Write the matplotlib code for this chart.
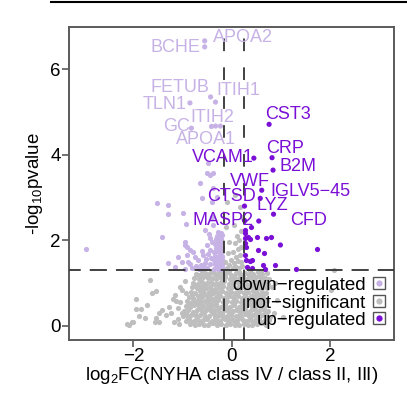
import matplotlib
matplotlib.use('Agg')
import matplotlib.pyplot as plt
from matplotlib.lines import Line2D

plt.rcParams['font.family'] = ['Liberation Sans', 'DejaVu Sans']
plt.rcParams['mathtext.default'] = 'regular'

GREY = '#BEBEBE'
DOWN = '#C7B2E6'
UP = '#7A0FD6'

# not-significant proteins, log2FC and -log10 p
grey_x = [
    -0.84, -0.75, -0.66, -0.57, -0.48, -0.39, -0.30, -0.21, -0.12, -0.03, 0.06, 0.15, 0.24, 0.33, 0.42, 0.51, 0.60, 0.69,
    -0.94, -0.86, -0.77, -0.68, -0.59, -0.50, -0.41, -0.32, -0.23, -0.14, -0.05, 0.04, 0.13, 0.22, 0.31, 0.40, 0.49, 0.58, 0.67, 0.75,
    -1.00, -0.91, -0.82, -0.73, -0.64, -0.55, -0.46, -0.37, -0.28, -0.19, -0.10, -0.01, 0.08, 0.17, 0.26, 0.35, 0.44, 0.53, 0.62, 0.71, 0.78,
    -0.97, -0.88, -0.79, -0.70, -0.61, -0.52, -0.43, -0.34, -0.25, -0.16, -0.07, 0.02, 0.11, 0.20, 0.29, 0.38, 0.47, 0.56, 0.65, 0.74,
    -0.94, -0.85, -0.76, -0.67, -0.58, -0.49, -0.40, -0.31, -0.22, -0.13, -0.04, 0.05, 0.14, 0.23, 0.32, 0.41, 0.50, 0.59, 0.68,
    -0.90, -0.81, -0.72, -0.63, -0.54, -0.45, -0.36, -0.27, -0.18, -0.09, 0.00, 0.09, 0.18, 0.27, 0.36, 0.45, 0.54, 0.63, 0.71,
    -0.87, -0.78, -0.69, -0.60, -0.51, -0.42, -0.33, -0.24, -0.15, -0.06, 0.03, 0.12, 0.21, 0.30, 0.39, 0.48, 0.57, 0.66,
    -0.83, -0.74, -0.65, -0.56, -0.47, -0.38, -0.29, -0.20, -0.11, -0.02, 0.07, 0.16, 0.25, 0.34, 0.43, 0.52, 0.61, 0.70,
    -0.80, -0.71, -0.62, -0.53, -0.44, -0.35, -0.26, -0.17, -0.08, 0.01, 0.10, 0.19, 0.28, 0.37, 0.46, 0.55, 0.64, 0.72,
    -0.78, -0.69, -0.60, -0.51, -0.42, -0.33, -0.24, -0.15, -0.06, 0.03, 0.12, 0.21, 0.30, 0.39, 0.48, 0.57, 0.66, 0.74,
    -0.76, -0.67, -0.58, -0.49, -0.40, -0.31, -0.22, -0.13, -0.04, 0.05, 0.14, 0.23, 0.32, 0.41, 0.50, 0.59, 0.68, 0.76,
    -0.73, -0.64, -0.55, -0.46, -0.37, -0.28, -0.19, -0.10, -0.01, 0.08, 0.17, 0.26, 0.35, 0.44, 0.53, 0.62, 0.71,
    -0.60, -0.42, -0.25, -0.05, 0.15, 0.38, 0.60,
    # between the rows of the dense core
    -0.70, -0.52, -0.35, -0.17, 0.01, 0.19, 0.37, 0.55, -0.62, -0.44, -0.26, -0.08, 0.10, 0.28, 0.46, 0.64,
    -0.66, -0.48, -0.30, -0.12, 0.06, 0.24, 0.42, 0.60, -0.58, -0.40, -0.22, -0.04, 0.14, 0.32, 0.50,
    -0.80, -0.62, -0.44, -0.26, -0.08, 0.10, 0.28, 0.46, 0.64,
    -0.92, -0.74, -0.56, -0.38, -0.20, -0.02, 0.16, 0.34, 0.52, 0.70,
    -0.86, -0.68, -0.50, -0.32, -0.14, 0.04, 0.22, 0.40, 0.58,
    -0.80, -0.62, -0.44, -0.26, -0.08, 0.10, 0.28, 0.46, 0.64,
    -0.74, -0.56, -0.38, -0.20, -0.02, 0.16, 0.34, 0.52, 0.70,
    -0.68, -0.50, -0.32, -0.14, 0.04, 0.22, 0.40, 0.58,
    # left tail
    -1.67, -1.54, -1.63, -1.94, -1.72, -1.84, -2.00, -2.08, -1.76, -1.54, -1.47, -1.41, -1.33, -1.56, -1.20, -1.13,
    -1.23, -1.06, -0.96, -0.93, -1.01, -1.10, -1.47, -1.88, -2.02, -2.12, -1.94, -1.10, -1.18, -1.05, -1.28, -1.15,
    -1.02, -1.08,
    # right side
    2.08, 2.02, 0.85, 0.92, 0.88, 1.05, 0.82,
    # above the p line but small fold change
    0.02, 0.08, 0.14, 0.20, -0.10, -0.05, 0.05, 0.12, 0.18, -0.02, 0.09, 0.16, 0.03, 0.12, 0.19, 0.06, 0.15, 0.10,
    0.18, -0.08, -0.12, 0.04, -0.10, 0.06, 0.16, 0.20, -0.14, -0.06,
]
grey_y = [
    0.04, 0.02, 0.05, 0.01, 0.03, 0.06, 0.02, 0.04, 0.01, 0.05, 0.03, 0.02, 0.05, 0.03, 0.01, 0.04, 0.06, 0.02,
    0.12, 0.15, 0.11, 0.14, 0.13, 0.16, 0.12, 0.14, 0.11, 0.15, 0.13, 0.12, 0.16, 0.14, 0.11, 0.13, 0.15, 0.12, 0.14, 0.13,
    0.24, 0.22, 0.26, 0.23, 0.25, 0.21, 0.24, 0.27, 0.22, 0.25, 0.23, 0.26, 0.22, 0.24, 0.27, 0.23, 0.25, 0.22, 0.26, 0.24, 0.21,
    0.34, 0.37, 0.33, 0.36, 0.35, 0.38, 0.34, 0.36, 0.33, 0.37, 0.35, 0.34, 0.38, 0.36, 0.33, 0.35, 0.37, 0.34, 0.36, 0.35,
    0.46, 0.44, 0.48, 0.45, 0.47, 0.43, 0.46, 0.49, 0.44, 0.47, 0.45, 0.48, 0.44, 0.46, 0.49, 0.45, 0.47, 0.44, 0.46,
    0.57, 0.55, 0.59, 0.56, 0.58, 0.54, 0.57, 0.60, 0.55, 0.58, 0.56, 0.59, 0.55, 0.57, 0.60, 0.56, 0.58, 0.55, 0.57,
    0.68, 0.66, 0.70, 0.67, 0.69, 0.65, 0.68, 0.71, 0.66, 0.69, 0.67, 0.70, 0.66, 0.68, 0.71, 0.67, 0.69, 0.66,
    0.79, 0.77, 0.81, 0.78, 0.80, 0.76, 0.79, 0.82, 0.77, 0.80, 0.78, 0.81, 0.77, 0.79, 0.82, 0.78, 0.80, 0.77,
    0.90, 0.88, 0.92, 0.89, 0.91, 0.87, 0.90, 0.93, 0.88, 0.91, 0.89, 0.92, 0.88, 0.90, 0.93, 0.89, 0.91, 0.88,
    1.01, 0.99, 1.03, 1.00, 1.02, 0.98, 1.01, 1.04, 0.99, 1.02, 1.00, 1.03, 0.99, 1.01, 1.04, 1.00, 1.02, 0.99,
    1.12, 1.10, 1.14, 1.11, 1.13, 1.09, 1.12, 1.15, 1.10, 1.13, 1.11, 1.14, 1.10, 1.12, 1.15, 1.11, 1.13, 1.10,
    1.22, 1.20, 1.24, 1.21, 1.23, 1.19, 1.22, 1.25, 1.20, 1.23, 1.21, 1.24, 1.20, 1.22, 1.25, 1.21, 1.23,
    1.28, 1.27, 1.29, 1.28, 1.27, 1.29, 1.28,
    0.19, 0.18, 0.20, 0.19, 0.17, 0.20, 0.18, 0.19, 0.41, 0.40, 0.42, 0.41, 0.39, 0.42, 0.40, 0.41,
    0.63, 0.62, 0.64, 0.63, 0.61, 0.64, 0.62, 0.63, 0.85, 0.84, 0.86, 0.85, 0.83, 0.86, 0.84,
    0.08, 0.09, 0.07, 0.08, 0.09, 0.07, 0.08, 0.09, 0.07,
    0.30, 0.29, 0.31, 0.30, 0.29, 0.31, 0.30, 0.29, 0.31, 0.30,
    0.52, 0.51, 0.53, 0.52, 0.51, 0.53, 0.52, 0.51, 0.53,
    0.74, 0.73, 0.75, 0.74, 0.73, 0.75, 0.74, 0.73, 0.75,
    0.96, 0.95, 0.97, 0.96, 0.95, 0.97, 0.96, 0.95, 0.97,
    1.18, 1.17, 1.19, 1.18, 1.17, 1.19, 1.18, 1.17,
    1.07, 0.82, 0.77, 0.63, 0.49, 0.40, 0.10, 0.02, 0.19, 0.19, 0.30, 0.37, 0.26, 0.10, 0.63, 0.57,
    0.30, 0.92, 1.04, 0.77, 0.84, 0.42, 0.10, 0.22, 0.09, 0.05, 0.40, 0.15, 0.08, 0.55, 0.45, 0.72,
    0.30, 0.05,
    1.31, 0.84, 0.30, 0.60, 1.00, 0.20, 0.90,
    1.35, 1.38, 1.36, 1.40, 1.36, 1.42, 1.48, 1.52, 1.50, 1.55, 1.62, 1.66, 1.72, 1.80, 1.85, 1.93, 2.00, 2.10,
    2.22, 1.70, 2.30, 2.35, 2.89, 3.05, 2.77, 2.55, 1.50, 1.95,
]

# down-regulated proteins
down_x = [
    -0.37, -0.32, -0.27, -0.22, -0.19, -0.35, -0.30, -0.25, -0.20, -0.37, -0.32, -0.27, -0.22, -0.19,
    -0.34, -0.29, -0.24, -0.20, -0.36, -0.31, -0.26, -0.21, -0.33, -0.28, -0.23, -0.19, -0.35, -0.30,
    -0.25, -0.21, -0.32, -0.27, -0.22, -0.30, -0.24, -0.20, -0.28, -0.22,
    -0.50, -0.58, -0.66, -0.45, -0.55, -0.63, -0.72, -0.80, -0.42, -0.48, -0.44, -0.52, -0.60, -0.41,
    -0.46, -0.85, -0.95, -1.15, -0.96, -0.91,
    -1.52, -1.30, -1.30, -1.00, -0.93, -1.42, -2.97, -0.96, -0.85, -0.79, -0.91, -1.10, -0.75, -0.69,
    -1.30, -1.02, -0.89, -0.59, -0.51, -0.45, -0.55, -0.39, -0.41,
    -0.65, -0.61, -0.51, -0.45, -0.39, -0.49, -0.39, -0.30, -0.41, -0.43,
]
down_y = [
    1.33, 1.35, 1.32, 1.34, 1.36, 1.44, 1.42, 1.45, 1.43, 1.53, 1.55, 1.52, 1.54, 1.56,
    1.64, 1.62, 1.65, 1.63, 1.73, 1.75, 1.72, 1.74, 1.83, 1.81, 1.84, 1.82, 1.92, 1.94,
    1.91, 1.93, 2.02, 2.00, 2.03, 2.11, 2.09, 2.12, 2.20, 2.18,
    1.35, 1.38, 1.33, 1.45, 1.48, 1.42, 1.40, 1.36, 1.58, 1.68, 1.78, 1.56, 1.75, 1.95,
    2.15, 1.45, 1.34, 1.37, 1.96, 1.84,
    2.86, 2.82, 2.61, 2.63, 2.38, 2.07, 1.79, 1.89, 1.77, 1.72, 1.65, 1.61, 1.61, 1.54,
    1.47, 1.49, 1.49, 1.65, 1.89, 2.05, 2.24, 2.35, 2.54,
    3.33, 2.98, 3.57, 3.52, 3.57, 3.80, 3.22, 3.01, 2.89, 4.67,
]

# up-regulated proteins
up_x = [0.28, 0.40, 0.37, 0.51, 0.69, 0.79, 1.73, 0.26, 0.30, 0.53, 0.66, 0.28, 0.30, 0.37,
        0.41, 0.64, 0.32, 0.42, 0.87, 1.30, 0.67, 0.26, 0.28, 0.24, 0.33]
up_y = [2.24, 2.31, 2.04, 2.08, 2.06, 2.07, 1.79, 1.93, 1.85, 1.77, 1.71, 1.65, 1.54, 1.51,
        1.54, 1.42, 1.38, 1.36, 1.42, 1.34, 1.34, 2.18, 2.05, 2.47, 2.07]

# labelled proteins
genes = ['APOA2', 'BCHE', 'FETUB', 'ITIH1', 'TLN1', 'ITIH2', 'GC', 'APOA1',
         'CST3', 'CRP', 'B2M', 'VCAM1', 'VWF', 'IGLV5−45', 'CTSD', 'LYZ', 'MASP2', 'CFD']
gene_x = [-0.55, -0.55, -0.43, -0.33, -0.85, -0.33, -0.82, -0.23,
          0.76, 0.82, 0.84, 0.45, 0.61, 0.58, 0.26, 0.85, 0.55, 0.99]
gene_y = [6.66, 6.52, 5.35, 5.23, 5.21, 4.67, 4.62, 4.67,
          4.71, 3.93, 3.64, 3.92, 3.17, 2.98, 2.80, 2.61, 2.45, 1.89]
gene_up = [False] * 8 + [True] * 10
# label offsets in pixels
label_dx = [38, -29, -31, 23, -25, -3, -15, -14, 19, 13, 25, -31, -12, 50, -13, -1, -36, 28]
label_dy = [3, -1, 9, 12, -2, 9, 2, -13, 10, 9, 4, 1, 9, 7, 10, 9, 1, 25]

fc_lo, fc_hi = -0.16, 0.25
p_cut = 1.30

fig = plt.figure(figsize=(4.07, 3.98), dpi=100)
ax = fig.add_axes([0.1695, 0.1457, 0.7985, 0.786])

ax.scatter(grey_x, grey_y, s=14, color=GREY, linewidths=0, zorder=2)
ax.scatter(down_x, down_y, s=14, color=DOWN, linewidths=0, zorder=2)
ax.scatter(up_x, up_y, s=14, color=UP, linewidths=0, zorder=2)
gcol = [UP if u else DOWN for u in gene_up]
ax.scatter(gene_x, gene_y, s=14, c=gcol, linewidths=0, zorder=2)

for v in (fc_lo, fc_hi):
    ax.axvline(v, color='#333333', lw=1.3, linestyle=(0, (7, 9)), zorder=3)
ax.axhline(p_cut, color='#333333', lw=1.3, linestyle=(3, (9.5, 5)), zorder=3)

for g, x, y, up, dx, dy in zip(genes, gene_x, gene_y, gene_up, label_dx, label_dy):
    ax.annotate(g, (x, y), xytext=(dx, dy), textcoords='offset pixels',
                ha='center', va='center', fontsize=13, color=UP if up else DOWN, zorder=4)

ax.set_xlim(-3.31, 3.3)
ax.set_ylim(-0.33, 6.98)
ax.set_xticks([-2, 0, 2])
ax.set_xticklabels(['−2', '0', '2'])
ax.set_yticks([0, 2, 4, 6])
for s in ax.spines.values():
    s.set_color('#5a5a5a')
    s.set_linewidth(1.4)
ax.tick_params(axis='both', length=5, width=1.2, color='#5a5a5a', labelsize=13.5, pad=1)
ax.set_xlabel('log$_2$FC(NYHA class IV / class II, III)', fontsize=13.5, labelpad=0)
ax.set_ylabel('-log$_{10}$pvalue', fontsize=13.5, labelpad=4)

handles = []
for c in (DOWN, GREY, UP):
    box = Line2D([], [], linestyle='none', marker='s', markersize=8.5, markerfacecolor='white',
                 markeredgecolor='#555555', markeredgewidth=1)
    dot = Line2D([], [], linestyle='none', marker='o', markersize=4.5, markerfacecolor=c,
                 markeredgewidth=0)
    handles.append((box, dot))
leg = ax.legend(handles, ['down−regulated', 'not−significant', 'up−regulated'],
                loc='lower right', bbox_to_anchor=(0.975, 0.035), frameon=False, markerfirst=False,
                fontsize=13.5, labelspacing=0.02, handlelength=0.75, handletextpad=0.3,
                borderpad=0, borderaxespad=0)
for vp in leg._legend_handle_box.get_children():
    vp.align = 'right'

fig.add_artist(Line2D([51 / 407, 1.0], [0.996, 0.996], color='black', lw=1.5))

fig.savefig('out.png', dpi=100)
